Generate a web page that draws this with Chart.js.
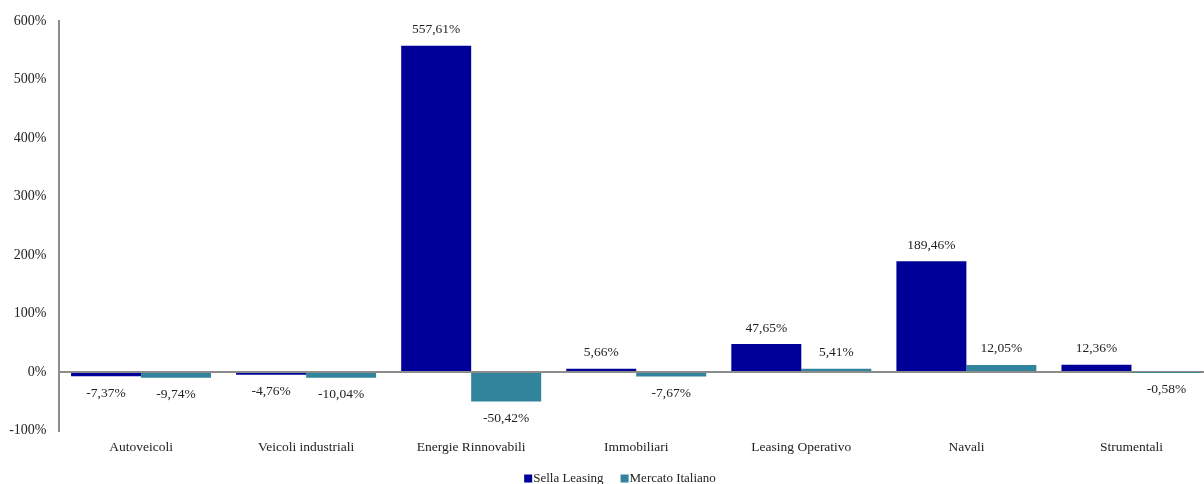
<!DOCTYPE html>
<html>
<head>
<meta charset="utf-8">
<script src="https://cdn.jsdelivr.net/npm/chart.js"></script>
<style>
  body { margin: 0; background: #fff; overflow: hidden; }
  #wrap { width: 1204px; height: 484px; overflow: hidden; }
</style>
</head>
<body>
<div id="wrap"><canvas id="chart" width="1214" height="484"></canvas></div>
<script>
// categories and values
const categories = ['Autoveicoli', 'Veicoli industriali', 'Energie Rinnovabili', 'Immobiliari', 'Leasing Operativo', 'Navali', 'Strumentali'];
const sellaLeasing = [-7.37, -4.76, 557.61, 5.66, 47.65, 189.46, 12.36];
const mercatoItaliano = [-9.74, -10.04, -50.42, -7.67, 5.41, 12.05, -0.58];
const yTicks = [-100, 0, 100, 200, 300, 400, 500, 600];
const seriesColors = ['#000099', '#31849b'];

const fontFamily = '"Liberation Serif", "DejaVu Serif", serif';

function fmt(v) {
    return v.toFixed(2).replace('.', ',') + '%';
}

// value labels above / below each bar
const barLabels = {
    id: 'barLabels',
    afterDatasetsDraw(chart) {
        const c = chart.ctx;
        c.save();
        c.font = '13.5px ' + fontFamily;
        c.fillStyle = '#222';
        c.textAlign = 'center';
        c.textBaseline = 'middle';
        chart.data.datasets.forEach((ds, i) => {
            chart.getDatasetMeta(i).data.forEach((bar, j) => {
                const v = ds.data[j];
                const y = v >= 0 ? bar.y - 16 : bar.y + 17;
                c.fillText(fmt(v), bar.x, y);
            });
        });
        c.restore();
    }
};

// legend drawn under the category labels
const bottomLegend = {
    id: 'bottomLegend',
    afterDraw(chart) {
        const c = chart.ctx;
        c.save();
        c.font = '13px ' + fontFamily;
        c.textBaseline = 'middle';
        const items = chart.data.datasets.map(ds => ({ text: ds.label, w: c.measureText(ds.label).width }));
        const gap = 17;
        const total = items.reduce((s, it) => s + 9 + it.w, 0) + gap * (items.length - 1);
        let x = 620 - total / 2;
        const y = chart.chartArea.bottom + 48;
        items.forEach((it, i) => {
            c.fillStyle = seriesColors[i];
            c.fillRect(x, y - 4, 8, 8);
            c.fillStyle = '#222';
            c.fillText(it.text, x + 9, y);
            x += 9 + it.w + gap;
        });
        c.restore();
    }
};

new Chart(document.getElementById('chart'), {
    type: 'bar',
    data: {
        labels: categories,
        datasets: [
            {
                label: 'Sella Leasing',
                data: sellaLeasing,
                backgroundColor: seriesColors[0],
                categoryPercentage: 0.848,
                barPercentage: 1
            },
            {
                label: 'Mercato Italiano',
                data: mercatoItaliano,
                backgroundColor: seriesColors[1],
                categoryPercentage: 0.848,
                barPercentage: 1
            }
        ]
    },
    options: {
        responsive: false,
        animation: false,
        layout: { padding: { top: 21, right: 0, left: 0, bottom: 23.5 } },
        plugins: {
            legend: { display: false },
            tooltip: { enabled: false }
        },
        scales: {
            x: {
                grid: { display: false, drawTicks: false },
                border: { display: false },
                ticks: {
                    color: '#222',
                    padding: 9,
                    maxRotation: 0,
                    font: { family: fontFamily, size: 13.5 }
                },
                afterFit(scale) { scale.height = 30; }
            },
            y: {
                min: -100,
                max: 600,
                z: 1,
                afterBuildTicks(scale) {
                    scale.ticks = yTicks.map(v => ({ value: v }));
                },
                grid: {
                    drawTicks: false,
                    lineWidth: 2,
                    color: ctx => ctx.tick && ctx.tick.value === 0 ? '#8c8c8c' : 'rgba(0,0,0,0)'
                },
                border: { color: '#8c8c8c', width: 2 },
                ticks: {
                    color: '#222',
                    padding: 12,
                    font: { family: fontFamily, size: 14 },
                    callback: v => v + '%'
                },
                afterFit(scale) { scale.width = 58.5; }
            }
        }
    },
    plugins: [barLabels, bottomLegend]
});
</script>
</body>
</html>
